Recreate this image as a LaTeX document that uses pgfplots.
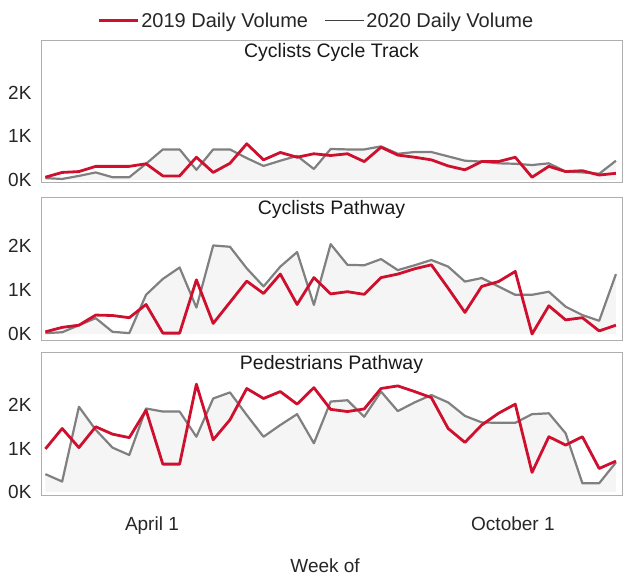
\documentclass[border=0pt]{standalone}
\usepackage{pgfplots}
\pgfplotsset{compat=1.18}
\usepackage{pgfplotstable}
\usepackage{fontspec}
\setmainfont{Liberation Sans}
\definecolor{redline}{RGB}{206,16,46}
\definecolor{grayline}{RGB}{128,128,128}
\definecolor{boxgray}{RGB}{175,175,175}

\pgfplotstableread{
x r g
0 0.06 0.04
1 0.17 0.02
2 0.19 0.09
3 0.31 0.17
4 0.31 0.06
5 0.31 0.06
6 0.37 0.37
7 0.09 0.70
8 0.09 0.70
9 0.52 0.23
10 0.17 0.70
11 0.38 0.70
12 0.83 0.50
13 0.46 0.32
14 0.63 0.44
15 0.52 0.55
16 0.60 0.25
17 0.56 0.71
18 0.60 0.70
19 0.42 0.70
20 0.75 0.77
21 0.57 0.60
22 0.52 0.64
23 0.46 0.64
24 0.32 0.54
25 0.23 0.44
26 0.42 0.42
27 0.42 0.38
28 0.52 0.37
29 0.06 0.34
30 0.31 0.38
31 0.19 0.19
32 0.21 0.17
33 0.11 0.14
34 0.15 0.44
}\trackdata

\pgfplotstableread{
x r g
0 0.05 0.02
1 0.15 0.04
2 0.20 0.20
3 0.43 0.36
4 0.42 0.05
5 0.37 0.02
6 0.67 0.89
7 0.02 1.25
8 0.02 1.51
9 1.23 0.60
10 0.24 2.01
11 0.72 1.98
12 1.20 1.49
13 0.92 1.08
14 1.36 1.53
15 0.67 1.86
16 1.28 0.66
17 0.91 2.04
18 0.96 1.57
19 0.90 1.56
20 1.28 1.70
21 1.36 1.45
22 1.48 1.56
23 1.57 1.68
24 1.04 1.53
25 0.49 1.19
26 1.08 1.27
27 1.19 1.08
28 1.42 0.89
29 0.00 0.89
30 0.64 0.96
31 0.32 0.62
32 0.37 0.43
33 0.07 0.30
34 0.20 1.36
}\cycpathdata

\pgfplotstableread{
x r g
0 0.99 0.41
1 1.46 0.24
2 1.02 1.96
3 1.50 1.43
4 1.33 1.02
5 1.25 0.85
6 1.88 1.92
7 0.64 1.85
8 0.64 1.85
9 2.48 1.27
10 1.20 2.15
11 1.66 2.29
12 2.38 1.77
13 2.15 1.27
14 2.31 1.54
15 2.02 1.79
16 2.40 1.12
17 1.90 2.08
18 1.85 2.11
19 1.91 1.73
20 2.38 2.31
21 2.44 1.86
22 2.31 2.06
23 2.17 2.23
24 1.46 2.06
25 1.14 1.75
26 1.54 1.60
27 1.81 1.59
28 2.02 1.59
29 0.45 1.79
30 1.27 1.81
31 1.08 1.35
32 1.27 0.20
33 0.54 0.20
34 0.71 0.68
}\peddata

\pgfplotsset{
  panel/.style={
    scale only axis,
    width=581pt,
    xmin=-0.26, xmax=34.36,
    ytick={0,1,2},
    yticklabels={0K,1K,2K},
    major tick length=0pt,
    axis line style={boxgray, line width=0.8pt},
    tick label style={font=\fontsize{19}{22}\selectfont, text=black!85},
    /pgf/number format/assume math mode=true,
    yticklabel style={xshift=-6pt},
    xtick=\empty,
    title style={at={(axis description cs:0.5,1)}, anchor=north, yshift=-9pt, inner sep=0pt, font=\fontsize{19.5}{22}\selectfont, text=black!90},
    clip=true,
  },
  redplot/.style={redline, line width=2.8pt, line join=round},
  grayplot/.style={grayline, line width=2.2pt, line join=round},
  fillplot/.style={draw=none, fill=black!4},
}

\begin{document}
\begin{tikzpicture}
\path (0,0) rectangle (635pt,578pt);

% Panel 1
\begin{axis}[panel, at={(41pt,396pt)}, anchor=south west, height=142pt,
  ymin=-0.05, ymax=3.22,
  title={Cyclists Cycle Track},
  legend columns=2,
  legend style={at={(axis description cs:0.474,1.0)}, anchor=south, yshift=7pt, draw=none, fill=none,
    font=\fontsize{20}{23}\selectfont, text=black!85,
    /tikz/every even column/.append style={column sep=14pt}},
  legend image code/.code={\draw[#1] (0pt,0pt) -- (39pt,0pt);},
]
\addlegendimage{redline, line width=2.8pt}
\addlegendentry{2019 Daily Volume}
\addlegendimage{black!75, line width=1.3pt}
\addlegendentry{2020 Daily Volume}
\addplot[fillplot, forget plot] table[x=x, y=g] {\trackdata} \closedcycle;
\addplot[grayplot, forget plot] table[x=x, y=g] {\trackdata};
\addplot[redplot, forget plot] table[x=x, y=r] {\trackdata};
\end{axis}

% Panel 2
\begin{axis}[panel, at={(41pt,238pt)}, anchor=south west, height=143pt,
  ymin=-0.136, ymax=3.11,
  title={Cyclists Pathway},
]
\addplot[fillplot] table[x=x, y=g] {\cycpathdata} \closedcycle;
\addplot[grayplot] table[x=x, y=g] {\cycpathdata};
\addplot[redplot] table[x=x, y=r] {\cycpathdata};
\end{axis}

% Panel 3
\begin{axis}[panel, at={(41pt,83pt)}, anchor=south west, height=143pt,
  ymin=-0.07, ymax=3.22,
  title={Pedestrians Pathway},
  xtick={6.35,27.86},
  xticklabels={April 1, October 1},
  xticklabel style={yshift=-18pt},
  xlabel={Week of},
  xlabel style={at={(axis description cs:0.489,0)}, anchor=center, yshift=-71pt, font=\fontsize{19}{22}\selectfont, text=black!85},
]
\addplot[fillplot] table[x=x, y=g] {\peddata} \closedcycle;
\addplot[grayplot] table[x=x, y=g] {\peddata};
\addplot[redplot] table[x=x, y=r] {\peddata};
\end{axis}
\end{tikzpicture}
\end{document}
